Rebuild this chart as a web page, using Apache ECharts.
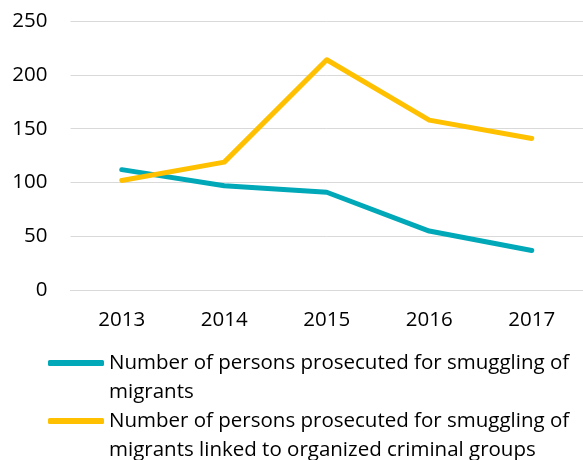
<!DOCTYPE html>
<html>
<head>
<meta charset="utf-8">
<script src="https://cdn.jsdelivr.net/npm/echarts@6/dist/echarts.min.js"></script>
<style>html,body{margin:0;padding:0;background:#fff}#c{width:583px;height:460px}</style>
</head>
<body>
<div id="c"></div>
<script>
var years = ['2013', '2014', '2015', '2016', '2017'];
var prosecuted = [112, 97, 91, 55, 37];
var prosecutedOrganized = [102, 119, 214, 158, 141];
var seriesNames = [
  'Number of persons prosecuted for smuggling of migrants',
  'Number of persons prosecuted for smuggling of migrants linked to organized criminal groups'
];
var colors = ['#00A8B8', '#FFC000'];

var FONT = 'Open Sans';
var FS = 20.5;
var LH = 29;
function legendFor(i, iconCenter) {
  return {
    data: [seriesNames[i]],
    orient: 'vertical',
    left: 48,
    top: iconCenter - LH * 1.5,
    padding: 0,
    icon: 'roundRect',
    itemWidth: 56,
    itemHeight: 6,
    selectedMode: false,
    formatter: function (name) { return '\n' + name; },
    textStyle: {
      fontFamily: FONT, fontSize: FS, color: '#000',
      lineHeight: LH, width: 474, overflow: 'break'
    }
  };
}
var chart = echarts.init(document.getElementById('c'));
chart.setOption({
  animation: false,
  color: colors,
  grid: { left: 70.5, top: 21, width: 524.5, height: 269.3, containLabel: false },
  legend: [legendFor(0, 363), legendFor(1, 421)],
  xAxis: {
    type: 'category', data: years, boundaryGap: true,
    axisLine: { show: true, lineStyle: { color: '#D9D9D9', width: 1 } },
    axisTick: { show: false },
    axisLabel: { fontFamily: FONT, fontSize: FS, color: '#000', margin: 19 }
  },
  yAxis: {
    type: 'value', min: 0, max: 250, interval: 50,
    axisLine: { show: false }, axisTick: { show: false },
    splitLine: { lineStyle: { color: '#D9D9D9', width: 1 } },
    axisLabel: { fontFamily: FONT, fontSize: FS, color: '#000', margin: 23 }
  },
  series: [
    { name: seriesNames[0], type: 'line', data: prosecuted, symbol: 'none',
      lineStyle: { width: 5, color: colors[0], cap: 'round', join: 'round' } },
    { name: seriesNames[1], type: 'line', data: prosecutedOrganized, symbol: 'none',
      lineStyle: { width: 5, color: colors[1], cap: 'round', join: 'round' } }
  ]
});
</script>
</body>
</html>
